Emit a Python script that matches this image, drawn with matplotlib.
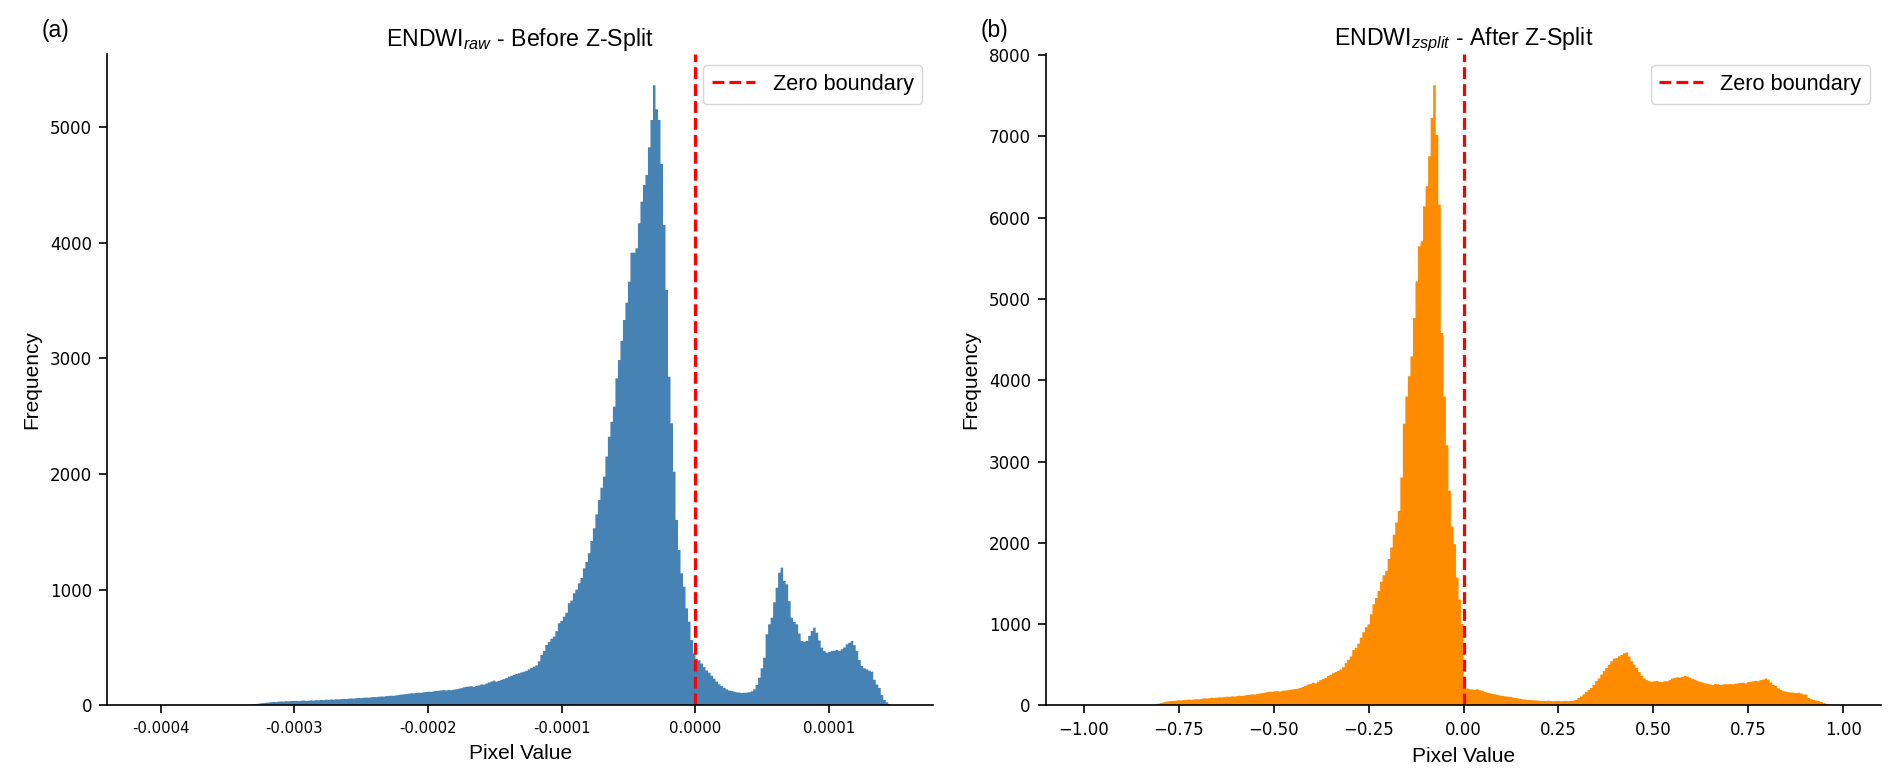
import numpy as np
import matplotlib.pyplot as plt
from matplotlib.ticker import MultipleLocator, FuncFormatter

plt.rcParams['mathtext.fontset'] = 'custom'
plt.rcParams['mathtext.rm'] = 'Liberation Sans'
plt.rcParams['mathtext.it'] = 'Liberation Sans:italic'
plt.rcParams['axes.linewidth'] = 1.2
plt.rcParams['xtick.major.width'] = 1.2
plt.rcParams['ytick.major.width'] = 1.2
plt.rcParams['xtick.major.size'] = 5.5
plt.rcParams['ytick.major.size'] = 5.5
plt.rcParams['xtick.major.pad'] = 5.5
plt.rcParams['ytick.major.pad'] = 5.5

TEXT_FONT = 'Liberation Sans'

# histogram range and per-bin heights (300 bins each)
raw_range = (-0.000412, 0.000150)
raw_counts = [
    0, 0, 0, 0, 0, 0, 0, 0, 0, 0,
    0, 0, 0, 0, 0, 0, 0, 0, 0, 0,
    0, 0, 0, 0, 0, 0, 0, 0, 0, 0,
    0, 0, 0, 0, 0, 0, 0, 0, 1, 2,
    3, 4, 6, 9, 11, 14, 17, 19, 22, 24,
    27, 29, 28, 31, 33, 32, 35, 34, 36, 37,
    38, 36, 39, 41, 38, 40, 42, 41, 44, 43,
    46, 45, 48, 47, 50, 49, 52, 51, 53, 55,
    54, 57, 59, 58, 61, 63, 62, 65, 67, 66,
    69, 71, 70, 74, 76, 75, 79, 81, 83, 82,
    86, 89, 92, 95, 97, 101, 104, 103, 106, 109,
    108, 112, 115, 117, 116, 121, 124, 126, 129, 131,
    128, 133, 130, 135, 139, 143, 148, 155, 160, 162,
    165, 158, 167, 172, 180, 178, 188, 197, 205, 213,
    205, 212, 220, 226, 235, 247, 255, 262, 270, 277,
    284, 290, 298, 310, 322, 334, 345, 380, 435, 470,
    521, 548, 575, 593, 640, 709, 730, 766, 800, 882,
    905, 968, 1000, 1054, 1100, 1184, 1240, 1314, 1420, 1530,
    1650, 1774, 1880, 1976, 2150, 2321, 2450, 2581, 2826, 2984,
    3150, 3330, 3480, 3661, 3912, 3912, 3950, 4166, 4353, 4497,
    4583, 4823, 5059, 5359, 5151, 5059, 4679, 4151, 3590, 2840,
    2437, 2019, 1602, 1342, 1141, 1025, 838, 723, 564, 449,
    400, 389, 360, 330, 300, 282, 255, 230, 205, 181,
    165, 150, 138, 128, 124, 118, 112, 110, 106, 108,
    109, 112, 120, 138, 175, 239, 320, 411, 614, 700,
    757, 890, 1016, 1146, 1189, 1074, 1046, 900, 757, 720,
    700, 620, 556, 550, 556, 600, 642, 671, 627, 560,
    498, 470, 455, 460, 469, 472, 478, 470, 484, 500,
    527, 540, 556, 520, 470, 391, 340, 320, 310, 299,
    290, 220, 180, 150, 89, 46, 25, 11, 3, 1,
]

zsplit_range = (-1.0, 1.0)
zsplit_counts = [
    0, 0, 0, 0, 0, 0, 0, 0, 0, 0,
    0, 0, 0, 0, 0, 0, 0, 0, 0, 0,
    0, 0, 0, 0, 0, 0, 0, 0, 8, 20,
    28, 36, 44, 48, 52, 55, 58, 62, 60, 64,
    66, 70, 68, 72, 75, 73, 80, 86, 84, 88,
    92, 90, 95, 98, 96, 100, 106, 104, 110, 108,
    112, 118, 115, 120, 126, 130, 135, 132, 140, 145,
    150, 155, 162, 168, 165, 172, 175, 170, 178, 182,
    185, 190, 195, 200, 205, 213, 225, 240, 255, 262,
    278, 270, 290, 310, 325, 340, 360, 375, 395, 410,
    422, 440, 470, 520, 560, 600, 680, 706, 760, 833,
    900, 960, 997, 1120, 1244, 1320, 1408, 1520, 1600, 1654,
    1800, 1941, 2100, 2250, 2393, 2803, 3465, 3800, 4050, 4293,
    4766, 5217, 5648, 5709, 6140, 6387, 6757, 7229, 7630, 7020,
    6160, 4581, 3800, 3200, 2639, 2200, 1983, 1571, 1300, 1000,
    213, 205, 197, 195, 190, 197, 185, 178, 165, 155,
    150, 140, 135, 127, 120, 115, 110, 106, 102, 95,
    90, 85, 80, 74, 70, 66, 64, 62, 60, 58,
    55, 54, 53, 56, 52, 50, 53, 55, 51, 52,
    54, 50, 53, 58, 65, 90, 110, 135, 165, 190,
    213, 250, 296, 330, 377, 420, 459, 500, 542, 575,
    580, 603, 620, 640, 650, 600, 542, 500, 459, 410,
    361, 330, 310, 296, 290, 296, 300, 290, 285, 296,
    296, 310, 330, 340, 345, 340, 350, 361, 355, 340,
    325, 316, 300, 290, 280, 270, 265, 258, 250, 262,
    258, 250, 255, 260, 258, 262, 258, 265, 270, 275,
    278, 270, 285, 290, 296, 300, 296, 310, 316, 330,
    316, 280, 250, 238, 210, 190, 172, 168, 160, 158,
    155, 150, 155, 145, 135, 130, 90, 75, 65, 58,
    53, 40, 28, 18, 10, 5, 2, 0, 0, 1,
]


def draw_panel(ax, value_range, counts, color, title, tag):
    edges = np.linspace(value_range[0], value_range[1], len(counts) + 1)
    centers = (edges[:-1] + edges[1:]) / 2
    ax.hist(centers, bins=edges, weights=counts, histtype='stepfilled', color=color)
    ax.axvline(0, color='red', linestyle='--', linewidth=2.3, label='Zero boundary')
    ax.set_title(title, fontsize=16.7, fontfamily=TEXT_FONT)
    ax.set_xlabel('Pixel Value', fontsize=15, fontfamily=TEXT_FONT, labelpad=6)
    ax.set_ylabel('Frequency', fontsize=15, fontfamily=TEXT_FONT, labelpad=6)
    ax.legend(loc='upper right', prop={'family': TEXT_FONT, 'size': 15.7})
    ax.spines['top'].set_visible(False)
    ax.spines['right'].set_visible(False)
    ax.tick_params(axis='y', labelsize=12)
    ax.text(-0.079, 1.036, tag, transform=ax.transAxes, fontsize=16.5,
            fontfamily=TEXT_FONT, ha='left', va='center')


fig = plt.figure(figsize=(18.92, 7.82), dpi=100)
ax1 = fig.add_axes([0.0567, 0.0981, 0.4366, 0.8325])
ax2 = fig.add_axes([0.5529, 0.0981, 0.4413, 0.8325])

draw_panel(ax1, raw_range, raw_counts, 'steelblue',
           r'ENDWI$_{raw}$ - Before Z-Split', '(a)')
draw_panel(ax2, zsplit_range, zsplit_counts, 'darkorange',
           r'ENDWI$_{zsplit}$ - After Z-Split', '(b)')

# left panel: plain 4-decimal tick labels
ax1.xaxis.set_major_locator(MultipleLocator(0.0001))
ax1.xaxis.set_major_formatter(FuncFormatter(lambda x, p: '%.4f' % (0.0 if abs(x) < 1e-12 else x)))
ax1.tick_params(axis='x', labelsize=10.7)
ax2.tick_params(axis='x', labelsize=12)

fig.savefig('out.png', dpi=100)
